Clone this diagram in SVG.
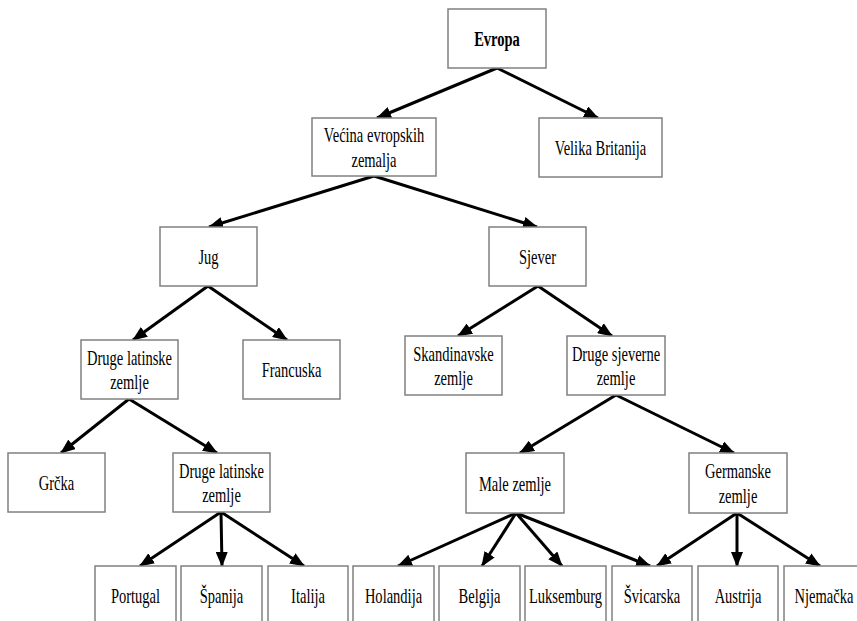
<svg xmlns="http://www.w3.org/2000/svg" width="857" height="621" viewBox="0 0 857 621">
<style>
  .box rect { fill: #ffffff; stroke: #808080; stroke-width: 1.5; }
  .box text { font-family: "Liberation Serif", "Times New Roman", serif; font-size: 22px; fill: #000; text-anchor: middle; }
  .box text.b { font-weight: bold; }
  #connectors line { stroke: #000; stroke-width: 3; marker-end: url(#ah); }
</style>
<defs>
  <marker id="ah" markerUnits="userSpaceOnUse" markerWidth="15" markerHeight="12" refX="14" refY="6" orient="auto">
    <path d="M0,0 L15,6 L0,12 Z" fill="#000"/>
  </marker>
</defs>
<rect width="857" height="621" fill="#fff"/>

<g id="connectors">
  <line x1="497" y1="68" x2="377" y2="118"/>
  <line x1="497" y1="68" x2="598" y2="118"/>
  <line x1="374" y1="176" x2="209" y2="227"/>
  <line x1="374" y1="176" x2="537" y2="227"/>
  <line x1="208" y1="286" x2="133" y2="340"/>
  <line x1="208" y1="286" x2="287" y2="340"/>
  <line x1="538" y1="286" x2="458" y2="336"/>
  <line x1="538" y1="286" x2="612" y2="336"/>
  <line x1="129" y1="399" x2="61" y2="453"/>
  <line x1="129" y1="399" x2="217" y2="453"/>
  <line x1="221" y1="512" x2="140" y2="566"/>
  <line x1="221" y1="512" x2="222" y2="566"/>
  <line x1="221" y1="512" x2="304" y2="566"/>
  <line x1="616" y1="395" x2="520" y2="453"/>
  <line x1="616" y1="395" x2="734" y2="453"/>
  <line x1="516" y1="513" x2="398" y2="566"/>
  <line x1="516" y1="513" x2="482" y2="566"/>
  <line x1="516" y1="513" x2="562" y2="566"/>
  <line x1="516" y1="513" x2="650" y2="566"/>
  <line x1="737" y1="513" x2="657" y2="566"/>
  <line x1="737" y1="513" x2="737" y2="566"/>
  <line x1="737" y1="513" x2="820" y2="566"/>
</g>

<g id="evropa" class="box"><rect x="448" y="9" width="98" height="59"/><text class="b" transform="translate(497,46) scale(0.66,1)">Evropa</text></g>
<g id="vecina" class="box"><rect x="312" y="118" width="124" height="58"/><text transform="translate(374,142) scale(0.66,1)"><tspan x="0">Većina evropskih</tspan><tspan x="0" dy="25">zemalja</tspan></text></g>
<g id="velika-britanija" class="box"><rect x="539" y="118" width="123" height="59"/><text transform="translate(600.5,155) scale(0.66,1)">Velika Britanija</text></g>
<g id="jug" class="box"><rect x="160" y="227" width="97" height="59"/><text transform="translate(208.5,264) scale(0.66,1)">Jug</text></g>
<g id="sjever" class="box"><rect x="489" y="227" width="97" height="59"/><text transform="translate(537.5,264) scale(0.66,1)">Sjever</text></g>
<g id="druge-latinske-1" class="box"><rect x="81" y="340" width="97" height="59"/><text transform="translate(129.5,364.5) scale(0.66,1)"><tspan x="0">Druge latinske</tspan><tspan x="0" dy="25">zemlje</tspan></text></g>
<g id="francuska" class="box"><rect x="243" y="340" width="97" height="59"/><text transform="translate(291.5,377) scale(0.66,1)">Francuska</text></g>
<g id="skandinavske" class="box"><rect x="405" y="336" width="97" height="59"/><text transform="translate(453.5,360.5) scale(0.66,1)"><tspan x="0">Skandinavske</tspan><tspan x="0" dy="25">zemlje</tspan></text></g>
<g id="druge-sjeverne" class="box"><rect x="567" y="336" width="98" height="59"/><text transform="translate(616,360.5) scale(0.66,1)"><tspan x="0">Druge sjeverne</tspan><tspan x="0" dy="25">zemlje</tspan></text></g>
<g id="grcka" class="box"><rect x="8" y="453" width="97" height="59"/><text transform="translate(56.5,490) scale(0.66,1)">Grčka</text></g>
<g id="druge-latinske-2" class="box"><rect x="173" y="453" width="97" height="59"/><text transform="translate(221.5,477.5) scale(0.66,1)"><tspan x="0">Druge latinske</tspan><tspan x="0" dy="25">zemlje</tspan></text></g>
<g id="male-zemlje" class="box"><rect x="466" y="453" width="98" height="60"/><text transform="translate(515,490.5) scale(0.66,1)">Male zemlje</text></g>
<g id="germanske" class="box"><rect x="689" y="453" width="98" height="60"/><text transform="translate(738,478) scale(0.66,1)"><tspan x="0">Germanske</tspan><tspan x="0" dy="25">zemlje</tspan></text></g>

<g id="portugal" class="box"><rect x="95" y="566" width="81" height="60"/><text transform="translate(135.5,602.5) scale(0.66,1)">Portugal</text></g>
<g id="spanija" class="box"><rect x="181" y="566" width="81" height="60"/><text transform="translate(221.5,602.5) scale(0.66,1)">Španija</text></g>
<g id="italija" class="box"><rect x="268" y="566" width="80" height="60"/><text transform="translate(308,602.5) scale(0.66,1)">Italija</text></g>
<g id="holandija" class="box"><rect x="353" y="566" width="81" height="60"/><text transform="translate(393.5,602.5) scale(0.66,1)">Holandija</text></g>
<g id="belgija" class="box"><rect x="439" y="566" width="81" height="60"/><text transform="translate(479.5,602.5) scale(0.66,1)">Belgija</text></g>
<g id="luksemburg" class="box"><rect x="525" y="566" width="81" height="60"/><text transform="translate(565.5,602.5) scale(0.66,1)">Luksemburg</text></g>
<g id="svicarska" class="box"><rect x="612" y="566" width="80" height="60"/><text transform="translate(652,602.5) scale(0.66,1)">Švicarska</text></g>
<g id="austrija" class="box"><rect x="698" y="566" width="80" height="60"/><text transform="translate(738,602.5) scale(0.66,1)">Austrija</text></g>
<g id="njemacka" class="box"><rect x="784" y="566" width="80" height="60"/><text transform="translate(824,602.5) scale(0.66,1)">Njemačka</text></g>
</svg>
